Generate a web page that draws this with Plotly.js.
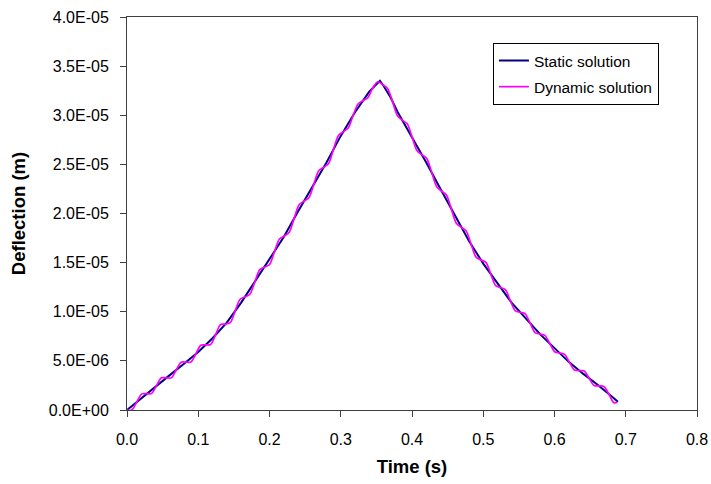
<!DOCTYPE html>
<html>
<head>
<meta charset="utf-8">
<script src="https://cdn.plot.ly/plotly-3.0.1.min.js"></script>
<style>html,body{margin:0;padding:0;background:#fff;}#chart{width:711px;height:484px;}</style>
</head>
<body>
<div id="chart"></div>
<script>
// ---- data ----
const staticTime = [0, 0.02, 0.04, 0.06, 0.08, 0.10, 0.12, 0.14, 0.16, 0.18, 0.20, 0.22, 0.24, 0.26, 0.28, 0.30, 0.32, 0.34, 0.35, 0.355, 0.36, 0.37, 0.38, 0.40, 0.42, 0.44, 0.46, 0.48, 0.50, 0.52, 0.54, 0.56, 0.58, 0.60, 0.62, 0.64, 0.66, 0.68, 0.689];
const staticDeflection = [0, 1.2e-6, 2.4e-6, 3.55e-6, 4.7e-6, 5.9e-6, 7.3e-6, 8.9e-6, 10.9e-6, 13.1e-6, 15.3e-6, 17.6e-6, 20.2e-6, 22.7e-6, 25.2e-6, 27.9e-6, 30.3e-6, 32.4e-6, 33.2e-6, 33.5e-6, 33.0e-6, 31.8e-6, 30.3e-6, 27.8e-6, 25.2e-6, 22.5e-6, 19.8e-6, 17.2e-6, 14.9e-6, 12.9e-6, 10.9e-6, 9.3e-6, 7.7e-6, 6.3e-6, 4.9e-6, 3.7e-6, 2.6e-6, 1.4e-6, 0.85e-6];

const dynamicTime = [0, 0.0069, 0.0138, 0.0207, 0.0276, 0.0345, 0.0414, 0.0483, 0.0552, 0.0621, 0.069, 0.0759, 0.0828, 0.0897, 0.0966, 0.1035, 0.1104, 0.1173, 0.1242, 0.1311, 0.138, 0.1449, 0.1518, 0.1587, 0.1656, 0.1725, 0.1794, 0.1863, 0.1932, 0.2001, 0.207, 0.2139, 0.2208, 0.2277, 0.2346, 0.2415, 0.2484, 0.2553, 0.2622, 0.2691, 0.276, 0.2829, 0.2898, 0.2967, 0.3036, 0.3105, 0.3174, 0.3243, 0.3312, 0.3381, 0.345, 0.3519, 0.3588, 0.3657, 0.3726, 0.3795, 0.3864, 0.3933, 0.4002, 0.4071, 0.414, 0.4209, 0.4278, 0.4347, 0.4416, 0.4485, 0.4554, 0.4623, 0.4692, 0.4761, 0.483, 0.4899, 0.4968, 0.5037, 0.5106, 0.5175, 0.5244, 0.5313, 0.5382, 0.5451, 0.552, 0.5589, 0.5658, 0.5727, 0.5796, 0.5865, 0.5934, 0.6003, 0.6072, 0.6141, 0.621, 0.6279, 0.6348, 0.6417, 0.6486, 0.6555, 0.6624, 0.6693, 0.6762, 0.6831, 0.688];
const dynamicDeflection = [0, 0.01e-6, 0.83e-6, 1.64e-6, 1.66e-6, 1.67e-6, 2.48e-6, 3.28e-6, 3.27e-6, 3.27e-6, 4.07e-6, 4.86e-6, 4.87e-6, 4.88e-6, 5.70e-6, 6.60e-6, 6.63e-6, 6.66e-6, 7.64e-6, 8.69e-6, 8.74e-6, 8.89e-6, 10.08e-6, 11.27e-6, 11.52e-6, 11.78e-6, 13.03e-6, 14.29e-6, 14.55e-6, 14.81e-6, 16.11e-6, 17.40e-6, 17.70e-6, 18.10e-6, 19.50e-6, 20.89e-6, 21.25e-6, 21.61e-6, 22.98e-6, 24.34e-6, 24.70e-6, 25.09e-6, 26.52e-6, 27.95e-6, 28.33e-6, 28.71e-6, 29.99e-6, 31.15e-6, 31.48e-6, 31.80e-6, 32.80e-6, 33.41e-6, 33.12e-6, 32.72e-6, 31.41e-6, 29.98e-6, 29.50e-6, 29.14e-6, 27.77e-6, 26.38e-6, 25.98e-6, 25.58e-6, 24.15e-6, 22.72e-6, 22.28e-6, 21.85e-6, 20.42e-6, 19.00e-6, 18.60e-6, 18.21e-6, 16.86e-6, 15.56e-6, 15.27e-6, 15.03e-6, 13.84e-6, 12.65e-6, 12.46e-6, 12.22e-6, 11.08e-6, 10.09e-6, 9.94e-6, 9.79e-6, 8.84e-6, 7.88e-6, 7.73e-6, 7.60e-6, 6.76e-6, 5.93e-6, 5.80e-6, 5.66e-6, 4.84e-6, 4.08e-6, 4.01e-6, 3.96e-6, 3.23e-6, 2.50e-6, 2.46e-6, 2.39e-6, 1.63e-6, 0.75e-6, 0.78e-6];

const seriesNames = ['Static solution', 'Dynamic solution'];
const xTickValues = [0, 0.1, 0.2, 0.3, 0.4, 0.5, 0.6, 0.7, 0.8];
const xTickLabels = ['0.0', '0.1', '0.2', '0.3', '0.4', '0.5', '0.6', '0.7', '0.8'];
const yTickValues = [0, 5e-6, 1e-5, 1.5e-5, 2e-5, 2.5e-5, 3e-5, 3.5e-5, 4e-5];
const yTickLabels = ['0.0E+00', '5.0E-06', '1.0E-05', '1.5E-05', '2.0E-05', '2.5E-05', '3.0E-05', '3.5E-05', '4.0E-05'];
const xTitle = 'Time (s)';
const yTitle = 'Deflection (m)';

const FONT = 'Liberation Sans, Arial, Helvetica, sans-serif';

const traces = [
  {
    x: staticTime, y: staticDeflection, name: seriesNames[0], legendgroup: 'g1',
    type: 'scatter', mode: 'lines',
    line: {color: '#000080', width: 2}
  },
  {
    x: dynamicTime, y: dynamicDeflection, name: seriesNames[1], legendgroup: 'g2',
    type: 'scatter', mode: 'lines',
    line: {color: '#FF00FF', width: 1.7, shape: 'spline', smoothing: 0.8}
  }
];

const axisCommon = {
  showline: true, linecolor: '#404040', linewidth: 1, mirror: true,
  ticks: 'outside', ticklen: 6, tickcolor: '#404040', tickwidth: 1,
  showgrid: false, zeroline: false,
  tickfont: {family: FONT, size: 16, color: '#000'}
};

const layout = {
  width: 711, height: 484,
  margin: {l: 127, r: 14, t: 17, b: 74, pad: 0},
  paper_bgcolor: '#ffffff', plot_bgcolor: '#ffffff',
  font: {family: FONT, size: 16, color: '#000'},
  showlegend: true,
  xaxis: Object.assign({}, axisCommon, {
    range: [0, 0.8], tickmode: 'array', tickvals: xTickValues, ticktext: xTickLabels,
    ticklabelstandoff: 9,
    title: {text: '<b>' + xTitle + '</b>', font: {family: FONT, size: 18.5}, standoff: 12}
  }),
  yaxis: Object.assign({}, axisCommon, {
    range: [0, 4e-5], tickmode: 'array', tickvals: yTickValues, ticktext: yTickLabels,
    ticklabelstandoff: 8,
    title: {text: '<b>' + yTitle + '</b>', font: {family: FONT, size: 18.5}, standoff: 18}
  }),
  legend: {
    x: 0.642, y: 0.934, xanchor: 'left', yanchor: 'top',
    bgcolor: '#ffffff', bordercolor: '#000000', borderwidth: 1,
    font: {family: FONT, size: 15.5, color: '#000'},
    traceorder: 'grouped', tracegroupgap: 3
  }
};

Plotly.newPlot('chart', traces, layout, {displayModeBar: false, staticPlot: true});
</script>
</body>
</html>
